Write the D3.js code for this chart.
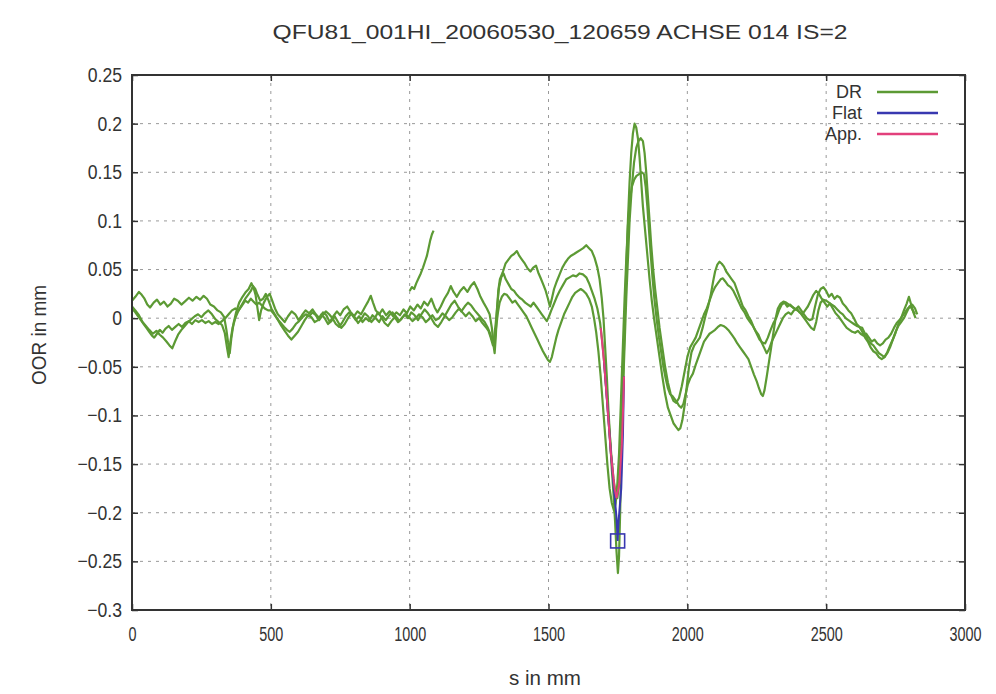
<!DOCTYPE html>
<html>
<head>
<meta charset="utf-8">
<script src="https://cdn.jsdelivr.net/npm/d3@7"></script>
<style>
  html, body { margin: 0; padding: 0; background: #fff; }
  svg { display: block; }
  text { font-family: "Liberation Sans", Arial, sans-serif; fill: #333; }
</style>
</head>
<body>
<svg id="chart" width="996" height="694"></svg>
<script>
// Out-of-roundness profile, axis 014
const titleText = "QFU81_001HI_20060530_120659 ACHSE 014 IS=2";
const xLabel = "s in mm";
const yLabel = "OOR in mm";
const xTicks = [0, 500, 1000, 1500, 2000, 2500, 3000];
const yTicks = [0.25, 0.2, 0.15, 0.1, 0.05, 0, -0.05, -0.1, -0.15, -0.2, -0.25, -0.3];
const legendNames = ["DR", "Flat", "App."];

// DR measurement traces: [s (mm), OOR (mm)]
const drTrace1 = [[0,0.018],[12,0.022],[25,0.027],[35,0.024],[45,0.02],[55,0.014],[65,0.011],[78,0.016],[90,0.019],[102,0.014],[115,0.017],[128,0.012],[140,0.015],[152,0.02],[165,0.018],[178,0.014],[190,0.017],[205,0.021],[218,0.018],[232,0.022],[245,0.019],[258,0.023],[270,0.02],[282,0.014],[295,0.012],[308,0.008],[320,0.006],[332,0.001],[340,-0.012],[346,-0.025],[352,-0.036],[358,-0.02],[366,-0.005],[375,0.006],[386,0.016],[398,0.022],[410,0.027],[420,0.03],[430,0.036],[438,0.031],[445,0.024],[452,0.01],[458,-0.002],[465,0.008],[475,0.016],[486,0.022],[496,0.025],[505,0.018],[515,0.01],[525,0.004],[538,0.0],[550,-0.004],[562,0.002],[575,0.007],[588,0.004],[600,-0.002],[612,0.003],[625,0.008],[638,0.005],[650,0.009],[662,0.004],[675,0.0],[688,0.006],[700,0.003],[712,-0.004],[725,0.002],[738,0.007],[750,0.003],[762,0.009],[775,0.012],[788,0.006],[800,0.002],[812,0.007],[825,0.004],[838,0.011],[850,0.017],[860,0.023],[868,0.016],[878,0.008],[890,0.004],[902,0.009],[915,0.003],[928,0.007],[940,0.002],[952,0.006],[965,0.003],[978,0.009],[990,0.005],[1002,0.012],[1015,0.008],[1028,0.014],[1040,0.01],[1052,0.017],[1065,0.013],[1078,0.02],[1090,0.011],[1100,0.006],[1112,0.012],[1125,0.02],[1138,0.026],[1148,0.033],[1158,0.027],[1170,0.022],[1182,0.028],[1195,0.032],[1208,0.027],[1220,0.033],[1232,0.037],[1244,0.03],[1255,0.022],[1266,0.016],[1278,0.01],[1288,0.004],[1296,-0.01],[1302,-0.028],[1306,-0.036],[1310,-0.02],[1314,0.005],[1319,0.028],[1325,0.04],[1335,0.047],[1345,0.056],[1355,0.06],[1366,0.064],[1376,0.066],[1386,0.069],[1395,0.064],[1405,0.06],[1415,0.056],[1425,0.051],[1435,0.048],[1445,0.052],[1455,0.054],[1463,0.047],[1472,0.041],[1482,0.034],[1490,0.028],[1498,0.02],[1505,0.012],[1512,0.02],[1520,0.03],[1530,0.038],[1540,0.045],[1550,0.052],[1560,0.057],[1570,0.061],[1580,0.064],[1592,0.066],[1603,0.068],[1614,0.07],[1625,0.072],[1636,0.075],[1646,0.072],[1656,0.069],[1666,0.062],[1676,0.052],[1684,0.04],[1692,0.02],[1698,0.0],[1704,-0.03],[1710,-0.06],[1716,-0.095],[1722,-0.125],[1728,-0.155],[1734,-0.18],[1740,-0.21],[1745,-0.24],[1750,-0.262],[1754,-0.245],[1758,-0.2],[1762,-0.15],[1766,-0.1],[1770,-0.05],[1775,0.0],[1780,0.05],[1786,0.1],[1792,0.14],[1798,0.17],[1804,0.19],[1810,0.2],[1816,0.196],[1822,0.185],[1828,0.165],[1834,0.14],[1840,0.115],[1848,0.09],[1856,0.065],[1864,0.04],[1872,0.018],[1880,0.0],[1890,-0.02],[1900,-0.04],[1910,-0.06],[1920,-0.078],[1930,-0.092],[1940,-0.1],[1950,-0.108],[1960,-0.112],[1968,-0.115],[1975,-0.113],[1982,-0.105],[1990,-0.09],[1998,-0.07],[2006,-0.05],[2015,-0.035],[2025,-0.028],[2035,-0.024],[2045,-0.02],[2055,-0.01],[2065,0.002],[2075,0.012],[2085,0.025],[2093,0.038],[2100,0.048],[2108,0.055],[2116,0.058],[2124,0.056],[2132,0.053],[2140,0.048],[2150,0.044],[2160,0.04],[2170,0.036],[2180,0.028],[2190,0.02],[2200,0.012],[2210,0.008],[2220,0.002],[2230,-0.003],[2240,-0.01],[2250,-0.016],[2260,-0.022],[2270,-0.025],[2280,-0.026],[2290,-0.02],[2300,-0.012],[2310,-0.005],[2320,0.0],[2330,0.008],[2340,0.014],[2350,0.016],[2360,0.012],[2370,0.014],[2380,0.011],[2390,0.009],[2400,0.012],[2410,0.008],[2420,0.004],[2430,0.0],[2440,-0.002],[2450,-0.001],[2460,0.012],[2470,0.024],[2480,0.03],[2490,0.032],[2500,0.028],[2510,0.022],[2520,0.025],[2530,0.02],[2540,0.023],[2550,0.021],[2560,0.015],[2570,0.012],[2580,0.008],[2590,0.005],[2600,0.0],[2610,-0.006],[2620,-0.009],[2630,-0.014],[2640,-0.02],[2650,-0.024],[2660,-0.03],[2670,-0.034],[2680,-0.036],[2690,-0.04],[2700,-0.042],[2710,-0.04],[2720,-0.035],[2730,-0.028],[2740,-0.022],[2750,-0.015],[2760,-0.006],[2770,0.0],[2780,0.008],[2790,0.015],[2798,0.022],[2806,0.014],[2814,0.006],[2822,0.0]];

const drTrace2 = [[0,0.012],[12,0.008],[25,0.003],[38,-0.004],[50,-0.008],[62,-0.012],[75,-0.016],[88,-0.013],[100,-0.017],[112,-0.02],[124,-0.024],[135,-0.028],[145,-0.031],[155,-0.024],[166,-0.017],[178,-0.012],[190,-0.008],[202,-0.004],[214,-0.001],[226,0.002],[238,0.004],[250,0.001],[262,0.005],[275,0.008],[288,0.004],[300,-0.001],[312,-0.004],[324,-0.007],[334,-0.015],[342,-0.03],[348,-0.04],[354,-0.025],[362,-0.01],[372,0.0],[384,0.008],[396,0.014],[408,0.02],[418,0.024],[428,0.028],[436,0.033],[444,0.03],[452,0.024],[462,0.018],[472,0.02],[482,0.025],[492,0.018],[502,0.01],[514,0.004],[526,-0.002],[538,-0.008],[550,-0.013],[562,-0.018],[574,-0.022],[586,-0.018],[598,-0.014],[610,-0.008],[622,-0.002],[634,0.003],[646,0.001],[658,-0.004],[670,-0.002],[682,0.004],[694,0.0],[706,-0.006],[718,-0.003],[730,0.002],[742,-0.004],[754,-0.01],[766,-0.006],[778,0.0],[790,0.005],[802,0.001],[814,-0.005],[826,-0.001],[838,0.005],[850,0.002],[862,-0.004],[874,0.0],[886,0.006],[898,0.001],[910,-0.005],[922,-0.008],[934,-0.003],[946,0.001],[958,-0.004],[970,-0.001],[982,0.004],[994,0.0],[1006,0.006],[1018,0.003],[1030,-0.002],[1042,0.004],[1054,0.009],[1066,0.005],[1078,0.0],[1090,-0.006],[1102,-0.009],[1114,-0.004],[1126,0.002],[1138,0.008],[1150,0.014],[1162,0.018],[1174,0.012],[1186,0.007],[1198,0.012],[1210,0.016],[1222,0.013],[1234,0.008],[1246,0.004],[1258,0.0],[1270,-0.004],[1280,-0.009],[1290,-0.016],[1298,-0.024],[1304,-0.02],[1310,-0.005],[1316,0.015],[1322,0.032],[1330,0.042],[1338,0.046],[1346,0.04],[1356,0.035],[1366,0.03],[1376,0.028],[1386,0.024],[1396,0.021],[1406,0.019],[1416,0.016],[1426,0.014],[1436,0.012],[1446,0.016],[1456,0.012],[1466,0.008],[1476,0.004],[1486,0.0],[1494,-0.003],[1502,0.002],[1510,0.008],[1520,0.015],[1530,0.022],[1540,0.028],[1552,0.034],[1564,0.04],[1576,0.042],[1588,0.044],[1600,0.043],[1612,0.046],[1624,0.045],[1636,0.042],[1646,0.036],[1656,0.028],[1666,0.02],[1676,0.01],[1686,-0.005],[1694,-0.025],[1702,-0.05],[1710,-0.08],[1718,-0.11],[1726,-0.14],[1734,-0.165],[1742,-0.182],[1748,-0.185],[1754,-0.17],[1760,-0.14],[1765,-0.1],[1770,-0.06],[1775,-0.02],[1780,0.02],[1786,0.06],[1792,0.1],[1800,0.135],[1808,0.16],[1816,0.175],[1824,0.182],[1832,0.185],[1840,0.182],[1846,0.17],[1852,0.15],[1858,0.125],[1864,0.1],[1870,0.075],[1877,0.05],[1884,0.03],[1892,0.01],[1900,-0.01],[1910,-0.03],[1920,-0.05],[1930,-0.066],[1940,-0.078],[1950,-0.085],[1960,-0.087],[1970,-0.082],[1980,-0.07],[1990,-0.055],[2000,-0.04],[2010,-0.03],[2020,-0.025],[2030,-0.02],[2040,-0.012],[2050,-0.004],[2060,0.004],[2070,0.01],[2080,0.018],[2090,0.026],[2100,0.032],[2110,0.036],[2120,0.04],[2128,0.041],[2136,0.038],[2146,0.034],[2156,0.032],[2166,0.028],[2176,0.022],[2186,0.016],[2196,0.01],[2206,0.006],[2216,0.0],[2226,-0.004],[2236,-0.008],[2246,-0.013],[2256,-0.017],[2266,-0.024],[2276,-0.03],[2286,-0.036],[2294,-0.032],[2304,-0.024],[2314,-0.018],[2324,-0.012],[2334,-0.006],[2344,0.0],[2354,0.004],[2364,0.006],[2374,0.004],[2384,0.008],[2394,0.01],[2404,0.006],[2414,0.004],[2424,0.008],[2434,0.012],[2444,0.018],[2454,0.024],[2464,0.028],[2474,0.025],[2484,0.02],[2494,0.016],[2504,0.012],[2514,0.015],[2524,0.01],[2534,0.005],[2544,0.002],[2554,-0.002],[2564,-0.006],[2574,-0.01],[2584,-0.012],[2594,-0.014],[2604,-0.015],[2614,-0.013],[2624,-0.016],[2634,-0.018],[2644,-0.016],[2654,-0.02],[2664,-0.024],[2674,-0.022],[2684,-0.026],[2694,-0.028],[2704,-0.026],[2714,-0.022],[2724,-0.02],[2734,-0.016],[2744,-0.01],[2754,-0.005],[2764,-0.002],[2774,0.002],[2784,0.006],[2794,0.01],[2804,0.012],[2812,0.008],[2820,0.004]];

const drTrace3 = [[0,0.01],[12,0.006],[22,0.002],[32,-0.002],[42,-0.006],[52,-0.01],[62,-0.014],[72,-0.018],[80,-0.02],[90,-0.016],[100,-0.012],[110,-0.015],[120,-0.011],[132,-0.008],[144,-0.012],[156,-0.009],[168,-0.006],[180,-0.009],[192,-0.005],[204,-0.003],[216,-0.006],[228,-0.002],[240,-0.004],[252,-0.002],[264,-0.005],[276,-0.003],[288,-0.006],[300,-0.004],[312,-0.006],[324,-0.003],[336,0.0],[348,0.004],[360,0.008],[372,0.01],[384,0.008],[396,0.013],[408,0.018],[418,0.016],[428,0.02],[438,0.017],[448,0.014],[458,0.016],[468,0.013],[478,0.01],[490,0.008],[500,0.008],[512,0.004],[524,-0.001],[536,-0.005],[548,-0.009],[558,-0.012],[568,-0.014],[578,-0.011],[590,-0.006],[602,-0.003],[614,0.001],[626,0.004],[638,0.002],[650,0.006],[662,0.003],[674,-0.002],[686,0.003],[698,0.007],[710,0.004],[722,0.0],[734,-0.006],[746,-0.009],[758,-0.004],[770,0.002],[782,0.006],[794,0.003],[806,-0.002],[818,0.002],[830,-0.004],[842,0.0],[854,-0.003],[866,0.003],[878,0.0],[890,-0.004],[902,0.002],[914,-0.002],[926,0.003],[938,0.006],[950,0.002],[962,-0.003],[974,0.001],[986,0.004],[998,0.001],[1010,-0.003],[1022,0.0],[1034,0.004],[1046,0.001],[1058,-0.004],[1070,-0.001],[1082,0.003],[1094,-0.002],[1106,0.0],[1118,0.005],[1130,0.002],[1142,-0.002],[1154,0.001],[1166,0.006],[1178,0.01],[1190,0.006],[1202,0.002],[1214,0.006],[1226,0.002],[1238,-0.003],[1250,0.0],[1262,-0.005],[1274,-0.009],[1284,-0.013],[1292,-0.02],[1300,-0.028],[1306,-0.022],[1312,-0.008],[1318,0.006],[1324,0.016],[1332,0.022],[1340,0.025],[1350,0.024],[1360,0.02],[1370,0.016],[1380,0.018],[1390,0.014],[1400,0.01],[1410,0.006],[1420,0.002],[1430,-0.004],[1440,-0.01],[1450,-0.016],[1460,-0.022],[1470,-0.028],[1480,-0.034],[1490,-0.039],[1498,-0.043],[1505,-0.045],[1512,-0.04],[1520,-0.03],[1528,-0.02],[1536,-0.012],[1546,-0.004],[1556,0.004],[1566,0.01],[1576,0.016],[1586,0.022],[1596,0.026],[1606,0.028],[1616,0.03],[1626,0.028],[1636,0.025],[1646,0.02],[1656,0.012],[1664,0.0],[1672,-0.015],[1680,-0.035],[1688,-0.06],[1696,-0.09],[1704,-0.12],[1712,-0.15],[1720,-0.175],[1728,-0.19],[1736,-0.198],[1742,-0.19],[1748,-0.17],[1754,-0.14],[1759,-0.1],[1764,-0.06],[1769,-0.02],[1774,0.02],[1780,0.06],[1786,0.095],[1793,0.12],[1800,0.135],[1808,0.142],[1816,0.146],[1826,0.148],[1836,0.15],[1844,0.148],[1850,0.135],[1856,0.115],[1862,0.09],[1868,0.066],[1875,0.04],[1882,0.018],[1890,-0.002],[1898,-0.02],[1906,-0.035],[1914,-0.05],[1922,-0.062],[1930,-0.072],[1938,-0.078],[1946,-0.08],[1954,-0.083],[1962,-0.086],[1970,-0.09],[1978,-0.092],[1986,-0.088],[1994,-0.078],[2002,-0.068],[2010,-0.062],[2020,-0.057],[2030,-0.048],[2040,-0.04],[2050,-0.032],[2060,-0.024],[2070,-0.02],[2080,-0.016],[2090,-0.014],[2100,-0.012],[2110,-0.009],[2120,-0.007],[2130,-0.008],[2140,-0.01],[2150,-0.013],[2160,-0.017],[2170,-0.021],[2180,-0.026],[2190,-0.03],[2200,-0.034],[2210,-0.038],[2220,-0.042],[2230,-0.05],[2240,-0.058],[2250,-0.065],[2258,-0.072],[2266,-0.078],[2272,-0.08],[2278,-0.074],[2286,-0.06],[2294,-0.045],[2302,-0.03],[2310,-0.015],[2318,0.0],[2326,0.01],[2336,0.015],[2346,0.017],[2356,0.016],[2366,0.014],[2376,0.012],[2386,0.01],[2396,0.008],[2406,0.006],[2416,0.002],[2426,-0.002],[2436,-0.006],[2446,-0.01],[2456,-0.012],[2464,-0.004],[2472,0.008],[2480,0.016],[2490,0.019],[2500,0.018],[2510,0.016],[2520,0.014],[2530,0.012],[2540,0.009],[2550,0.006],[2560,0.004],[2570,0.0],[2580,-0.002],[2590,-0.004],[2600,-0.006],[2610,-0.008],[2620,-0.009],[2630,-0.01],[2640,-0.016],[2650,-0.022],[2660,-0.026],[2670,-0.028],[2680,-0.032],[2690,-0.036],[2700,-0.038],[2710,-0.04],[2720,-0.036],[2730,-0.03],[2740,-0.022],[2750,-0.014],[2760,-0.008],[2770,-0.004],[2780,0.0],[2790,0.006],[2800,0.012],[2810,0.014],[2820,0.01],[2828,0.004]];

// short DR fragment starting at 1000 mm
const drFragment = [[1000,0.028],[1008,0.032],[1016,0.03],[1024,0.036],[1032,0.041],[1040,0.046],[1048,0.052],[1055,0.058],[1062,0.064],[1068,0.072],[1074,0.08],[1080,0.086],[1086,0.09]];

// flat-spot fit and approximation around the dip
const flatFit = [[1700,-0.045],[1712,-0.09],[1725,-0.14],[1737,-0.18],[1745,-0.205],[1749,-0.229],[1752,-0.21],[1762,-0.175],[1768,-0.12],[1772,-0.06]];
const appFit = [[1688,-0.01],[1700,-0.045],[1712,-0.09],[1725,-0.14],[1738,-0.175],[1745,-0.185],[1755,-0.17],[1764,-0.13],[1769,-0.09],[1772,-0.06]];
const flatMarker = [1749, -0.229];

const colors = { dr: "#5c9a34", flat: "#3838b0", app: "#e2407c", grid: "#9a9a9a", axis: "#333" };

const svg = d3.select("#chart");
const m = { left: 132, right: 965, top: 75, bottom: 610 };
const x = d3.scaleLinear().domain([0, 3000]).range([m.left, m.right]);
const y = d3.scaleLinear().domain([-0.3, 0.25]).range([m.bottom, m.top]);

// squeeze glyphs horizontally like the narrow plotting font
function narrow(sel, k) {
  sel.each(function () {
    const len = this.getComputedTextLength();
    d3.select(this).attr("textLength", len * k).attr("lengthAdjust", "spacingAndGlyphs");
  });
}

// grid
const grid = svg.append("g").attr("stroke", colors.grid).attr("stroke-width", 1).attr("stroke-dasharray", "3,5");
grid.selectAll("line.h").data(yTicks.filter(v => v < 0.25 && v > -0.3)).join("line")
  .attr("x1", m.left).attr("x2", m.right).attr("y1", d => y(d)).attr("y2", d => y(d));
grid.selectAll("line.v").data(xTicks.filter(v => v > 0 && v < 3000)).join("line")
  .attr("y1", m.top).attr("y2", m.bottom).attr("x1", d => x(d)).attr("x2", d => x(d));

// axes with inward ticks on all four sides
const fmtY = d => d3.format("")(+d.toFixed(2));
const axB = svg.append("g").attr("transform", `translate(0,${m.bottom})`)
  .call(d3.axisBottom(x).tickValues(xTicks).tickSizeInner(-6).tickSizeOuter(0).tickPadding(17).tickFormat(d3.format("d")));
const axT = svg.append("g").attr("transform", `translate(0,${m.top})`)
  .call(d3.axisTop(x).tickValues(xTicks).tickSizeInner(-6).tickSizeOuter(0).tickFormat(""));
const axL = svg.append("g").attr("transform", `translate(${m.left},0)`)
  .call(d3.axisLeft(y).tickValues(yTicks).tickSizeInner(-6).tickSizeOuter(0).tickPadding(10).tickFormat(fmtY));
const axR = svg.append("g").attr("transform", `translate(${m.right},0)`)
  .call(d3.axisRight(y).tickValues(yTicks).tickSizeInner(-6).tickSizeOuter(0).tickFormat(""));
[axB, axT, axL, axR].forEach(a => {
  a.select(".domain").remove();
  a.selectAll(".tick line").attr("stroke", colors.axis).attr("stroke-width", 1.5);
  a.selectAll("text").attr("font-size", 20).attr("fill", "#333").attr("font-family", "Liberation Sans, Arial, sans-serif");
});
narrow(axB.selectAll("text"), 0.72);
narrow(axL.selectAll("text"), 0.88);

// data lines
const line = d3.line().x(d => x(d[0])).y(d => y(d[1]));
const plot = svg.append("g");
[drTrace1, drTrace2, drTrace3, drFragment].forEach(tr => {
  plot.append("path").datum(tr).attr("d", line)
    .attr("fill", "none").attr("stroke", colors.dr).attr("stroke-width", 2.2).attr("stroke-linejoin", "round");
});
plot.append("path").datum(flatFit).attr("d", line)
  .attr("fill", "none").attr("stroke", colors.flat).attr("stroke-width", 2);
plot.append("path").datum(appFit).attr("d", line)
  .attr("fill", "none").attr("stroke", colors.app).attr("stroke-width", 2);
plot.append("rect")
  .attr("x", x(flatMarker[0]) - 7).attr("y", y(flatMarker[1]) - 7)
  .attr("width", 14).attr("height", 14)
  .attr("fill", "none").attr("stroke", colors.flat).attr("stroke-width", 1.6);

// frame
svg.append("rect").attr("x", m.left).attr("y", m.top)
  .attr("width", m.right - m.left).attr("height", m.bottom - m.top)
  .attr("fill", "none").attr("stroke", colors.axis).attr("stroke-width", 2);

// legend
const legendColors = [colors.dr, colors.flat, colors.app];
const lg = svg.append("g");
legendNames.forEach((name, i) => {
  const yy = 92 + i * 21;
  lg.append("text").attr("x", 862).attr("y", yy + 6).attr("text-anchor", "end")
    .attr("font-size", 18).attr("fill", "#333").text(name);
  lg.append("line").attr("x1", 877).attr("x2", 938).attr("y1", yy).attr("y2", yy)
    .attr("stroke", legendColors[i]).attr("stroke-width", 2.5);
});

// titles
const t = svg.append("text").attr("x", 560).attr("y", 39).attr("text-anchor", "middle")
  .attr("font-size", 20).text(titleText);
t.attr("textLength", 575).attr("lengthAdjust", "spacingAndGlyphs");
svg.append("text").attr("x", 545).attr("y", 685).attr("text-anchor", "middle")
  .attr("font-size", 20).attr("textLength", 72).attr("lengthAdjust", "spacingAndGlyphs").text(xLabel);
svg.append("text").attr("transform", "translate(46,335) rotate(-90)").attr("text-anchor", "middle")
  .attr("font-size", 20).attr("textLength", 100).attr("lengthAdjust", "spacingAndGlyphs").text(yLabel);
</script>
</body>
</html>
